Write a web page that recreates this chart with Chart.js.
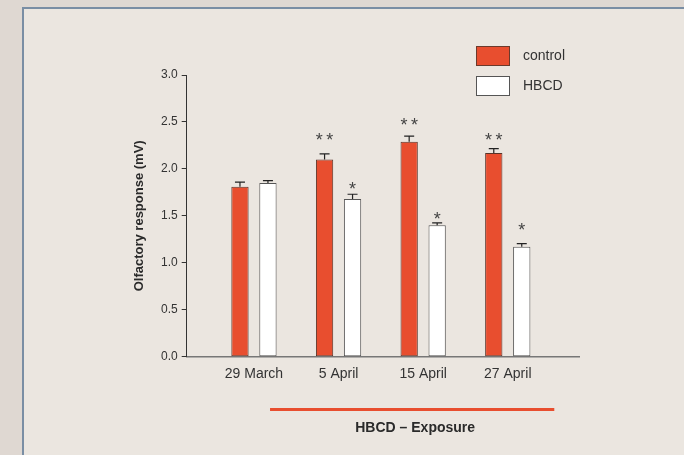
<!DOCTYPE html>
<html>
<head>
<meta charset="utf-8">
<script src="https://cdn.jsdelivr.net/npm/chart.js@4/dist/chart.umd.min.js"></script>
<style>
    html, body { margin: 0; padding: 0; }
    body { width: 684px; height: 455px; background: #dfd8d2; position: relative; overflow: hidden; }
    .panel { position: absolute; left: 22px; top: 7px; width: 720px; height: 520px; background: #ebe6e0; border: 2px solid #7a8ea4; }
    #wrap { position: absolute; left: 0; top: 0; width: 684px; height: 455px; }
</style>
</head>
<body>
<div class="panel"></div>
<div id="wrap"><canvas id="chart" width="684" height="455"></canvas></div>
<script>
// Dados
const categories = ['29 March', '5 April', '15 April', '27 April'];
const controlValues = [1.81, 2.10, 2.29, 2.17];
const controlErrors = [0.05, 0.06, 0.06, 0.045];
const hbcdValues = [1.85, 1.68, 1.40, 1.17];
const hbcdErrors = [0.025, 0.05, 0.025, 0.035];
const controlStars = ['', '**', '**', '**'];
const controlStarY = [null, 2.35, 2.50, 2.35];
const hbcdStars = ['', '*', '*', '*'];
const hbcdStarY = [null, 1.82, 1.50, 1.39];
const yTicks = [0, 0.5, 1.0, 1.5, 2.0, 2.5, 3.0];
const exposureRange = [0.19, 3.55];
const exposureLabel = 'HBCD – Exposure';

const FONT = '"Liberation Sans", Arial, sans-serif';
const RED = '#e84e2f';

// Barras de erro + asteriscos
const errorBarsPlugin = {
    id: 'errorBars',
    afterDatasetsDraw(chart) {
        const ctx = chart.ctx;
        const y = chart.scales.y;
        const errs = [controlErrors, hbcdErrors];
        const stars = [controlStars, hbcdStars];
        const starY = [controlStarY, hbcdStarY];
        ctx.save();
        chart.data.datasets.forEach((ds, i) => {
            const meta = chart.getDatasetMeta(i);
            meta.data.forEach((bar, j) => {
                const v = ds.data[j].y;
                const top = y.getPixelForValue(v + errs[i][j]);
                const base = y.getPixelForValue(v);
                ctx.strokeStyle = '#222';
                ctx.lineWidth = 1.2;
                ctx.beginPath();
                ctx.moveTo(bar.x, base);
                ctx.lineTo(bar.x, top);
                ctx.moveTo(bar.x - 5, top);
                ctx.lineTo(bar.x + 5, top);
                ctx.stroke();

                const s = stars[i][j];
                if (s) {
                    ctx.font = '18px ' + FONT;
                    ctx.fillStyle = '#444';
                    ctx.textAlign = 'center';
                    ctx.textBaseline = 'alphabetic';
                    const m = ctx.measureText('*');
                    const cy = y.getPixelForValue(starY[i][j]);
                    const by = cy - (m.actualBoundingBoxDescent - m.actualBoundingBoxAscent) / 2;
                    for (let k = 0; k < s.length; k++) {
                        const dx = (k - (s.length - 1) / 2) * 10.5;
                        ctx.fillText('*', bar.x + dx, by);
                    }
                }
            });
        });
        ctx.restore();
    }
};

// Legenda + linha de exposição
const extrasPlugin = {
    id: 'extras',
    afterDraw(chart) {
        const ctx = chart.ctx;
        const x = chart.scales.x;
        ctx.save();
        chart.data.datasets.forEach((ds, i) => {
            const top = 46 + i * 30;
            ctx.fillStyle = ds.backgroundColor;
            ctx.fillRect(476, top, 34, 20);
            ctx.strokeStyle = i === 0 ? '#6b3a2c' : '#555';
            ctx.lineWidth = 1;
            ctx.strokeRect(476.5, top + 0.5, 33, 19);
            ctx.fillStyle = '#333';
            ctx.font = '14px ' + FONT;
            ctx.textAlign = 'left';
            ctx.textBaseline = 'middle';
            ctx.fillText(ds.label, 523, top + 10);
        });

        const x0 = x.getPixelForValue(exposureRange[0]);
        const x1 = x.getPixelForValue(exposureRange[1]);
        ctx.strokeStyle = RED;
        ctx.lineWidth = 3;
        ctx.beginPath();
        ctx.moveTo(x0, 409.5);
        ctx.lineTo(x1, 409.5);
        ctx.stroke();
        ctx.fillStyle = '#2a2a2a';
        ctx.font = 'bold 14px ' + FONT;
        ctx.textAlign = 'center';
        ctx.textBaseline = 'middle';
        ctx.fillText(exposureLabel, (x0 + x1) / 2 + 3, 428);
        ctx.restore();
    }
};

const toPoints = vals => vals.map((v, i) => ({ x: i, y: v }));

new Chart(document.getElementById('chart'), {
    type: 'bar',
    data: {
        datasets: [
            {
                label: 'control',
                data: toPoints(controlValues),
                backgroundColor: RED,
                borderColor: '#5a3328',
                borderWidth: 1,
                borderSkipped: false,
                categoryPercentage: 0.6614,
                barPercentage: 0.618
            },
            {
                label: 'HBCD',
                data: toPoints(hbcdValues),
                backgroundColor: '#ffffff',
                borderColor: '#555555',
                borderWidth: 1,
                borderSkipped: false,
                categoryPercentage: 0.6614,
                barPercentage: 0.618
            }
        ]
    },
    options: {
        responsive: false,
        animation: false,
        layout: { padding: { left: 130, right: 105, top: 75, bottom: 0 } },
        plugins: { legend: { display: false }, tooltip: { enabled: false } },
        scales: {
            x: {
                type: 'linear',
                offset: false,
                min: -0.795,
                max: 3.842,
                afterBuildTicks: s => { s.ticks = categories.map((c, i) => ({ value: i })); },
                afterFit: s => { s.height = 98.3; },
                grid: { display: false, drawTicks: false, offset: false },
                border: { color: '#777', width: 1.5 },
                ticks: {
                    padding: 9,
                    color: '#333',
                    font: { family: FONT, size: 14 },
                    callback: v => categories[v] ?? ''
                }
            },
            y: {
                min: 0,
                max: 3,
                afterBuildTicks: s => { s.ticks = yTicks.map(v => ({ value: v })); },
                afterFit: s => { s.width = 56.7; },
                grid: { drawOnChartArea: false, drawTicks: true, tickLength: 5, color: '#333' },
                border: { color: '#333', width: 1 },
                ticks: {
                    padding: 4,
                    color: '#333',
                    font: { family: FONT, size: 12 },
                    callback: v => v.toFixed(1)
                },
                title: {
                    display: true,
                    text: 'Olfactory response (mV)',
                    color: '#2a2a2a',
                    font: { family: FONT, size: 13, weight: 'bold' },
                    padding: { top: 2, bottom: 0 }
                }
            }
        }
    },
    plugins: [errorBarsPlugin, extrasPlugin]
});
</script>
</body>
</html>
